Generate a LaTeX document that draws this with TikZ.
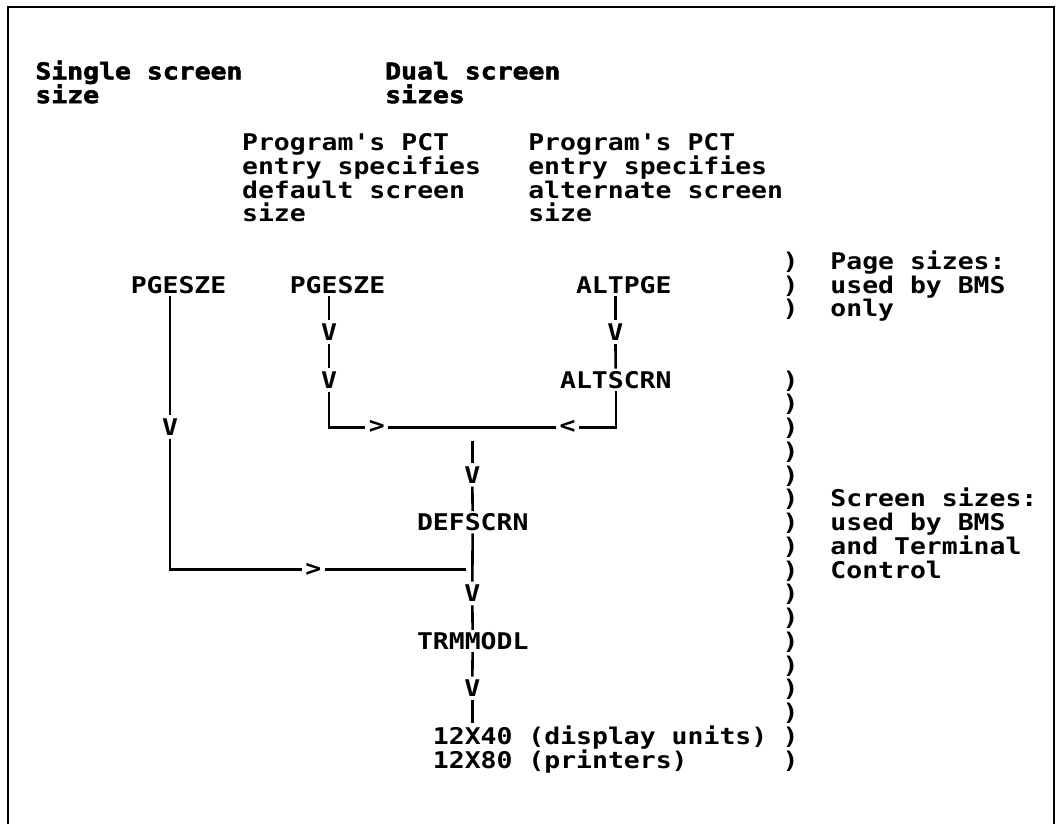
\documentclass[tikz,border=0pt]{standalone}
\usepackage{fontspec}
\usepackage{tikz}
\usetikzlibrary{calc}
\newfontfamily\scrfont[FakeStretch=1.15]{DejaVu Sans Mono}
\newfontfamily\headfont[FakeStretch=1.15, FakeBold=2.5]{DejaVu Sans Mono}
\newcommand{\scrsize}{\fontsize{11.5}{11.875}\selectfont}

\begin{document}
\begin{tikzpicture}[x=7.95pt, y=-11.875pt,
  lbl/.style={font=\scrfont\scrsize\bfseries, inner xsep=0pt, inner ysep=1pt, anchor=base west, align=left},
  head/.style={lbl, font=\headfont\scrsize\bfseries},
  tip/.style={font=\scrfont\scrsize\bfseries, inner sep=1.5pt},
  wire/.style={line width=1.3pt}]
\useasboundingbox (-2.2013,-9.9895) rectangle (64.4025,24.7053);
% frame, open at the bottom
\draw[line width=1.1pt] (-1.6981,24.7053) |- (64.088,-9.6947) -- (64.088,24.7053);
% headings (base anchor sits on the last line)
\node[head] (single) at (0,-5.65) {Single screen\\size};
\node[head] (dual) at (22,-5.65) {Dual screen\\sizes};
\node[lbl] (pctdef) at (13,-0.65) {Program's PCT\\entry specifies\\default screen\\size};
\node[lbl] (pctalt) at (31,-0.65) {Program's PCT\\entry specifies\\alternate screen\\size};
% size keywords
\node[lbl] (pgsingle) at (6,2.35) {PGESZE};
\node[lbl] (pgdual) at (16,2.35) {PGESZE};
\node[lbl] (altpge) at (34,2.35) {ALTPGE};
\node[lbl] (altscrn) at (33,6.35) {ALTSCRN};
\node[lbl] (defscrn) at (24,12.35) {DEFSCRN};
\node[lbl] (trmmodl) at (24,17.35) {TRMMODL};
\node[lbl] (units) at (25,22.35) {12X40 (display units)\\12X80 (printers)};
% notes on the right
\node[lbl] (pagenote) at (50,3.35) {Page sizes:\\used by BMS\\only};
\node[lbl] (scrnote) at (50,14.35) {Screen sizes:\\used by BMS\\and Terminal\\Control};
\foreach \r in {1,2,3,6,7,...,22} \node[lbl] (par\r) at (47,\r+0.35) {)};
% arrow marks
\node[tip] (vsingle) at (8.5,8) {V};
\node[tip] (vdual1) at (18.5,4) {V};
\node[tip] (vdual2) at (18.5,6) {V};
\node[tip] (valt) at (36.5,4) {V};
\node[tip] (gtdual) at (21.5,8) {>};
\node[tip] (ltalt) at (33.5,8) {<};
\node[tip] (vdef) at (27.5,10) {V};
\node[tip] (gtsingle) at (17.5,14) {>};
\node[tip] (vtrm) at (27.5,15) {V};
\node[tip] (vout) at (27.5,19) {V};
\coordinate (jup) at (27.5,8);
\coordinate (jlow) at (27.5,14);
% single screen branch
\draw[wire] (pgsingle.south -| vsingle) -- (vsingle);
\draw[wire] (vsingle) |- (gtsingle);
\draw[wire, shorten >=3pt] (gtsingle) -- (jlow);
% dual screen branches
\draw[wire] (pgdual.south -| vdual1) -- (vdual1);
\draw[wire] (vdual1) -- (vdual2);
\draw[wire] (vdual2) |- (gtdual);
\draw[wire] (gtdual) -- (ltalt);
\draw[wire] (altpge.south -| valt) -- (valt);
\draw[wire] (valt) -- (altscrn);
\draw[wire] (altscrn) |- (ltalt);
% common trunk
\draw[wire, shorten <=7pt] (jup) -- (vdef);
\draw[wire] (vdef) -- (defscrn);
\draw[wire] (defscrn) -- (vtrm);
\draw[wire] (vtrm) -- (trmmodl);
\draw[wire] (trmmodl) -- (vout);
\draw[wire] (vout) -- (vout |- units.north);
\end{tikzpicture}
\end{document}
